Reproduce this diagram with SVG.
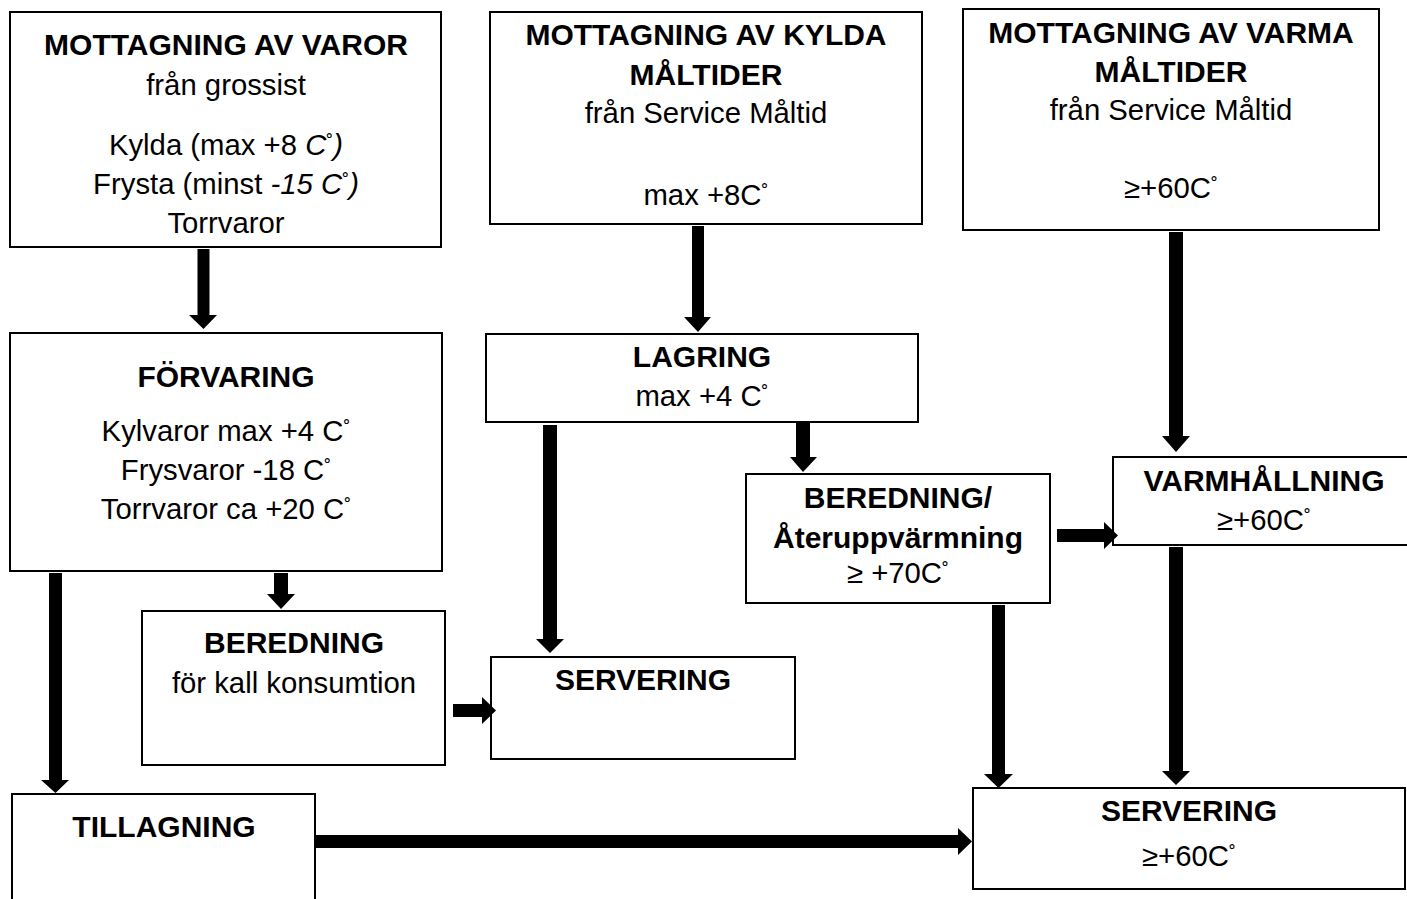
<svg xmlns="http://www.w3.org/2000/svg" width="1407" height="899" viewBox="0 0 1407 899">
<style>
.box{fill:#fff;stroke:#000;stroke-width:2}
text{font-family:"Liberation Sans",Arial,sans-serif;font-size:29.3px;fill:#000;text-anchor:middle}
.b{font-weight:bold;font-size:30px}
.i{font-style:italic}
.d{font-size:21px;baseline-shift:5px}
.arr{fill:#000;stroke:none}
</style>
<rect width="1407" height="899" fill="#fff"/>
<g id="n-mottagning-varor">
<rect class="box" x="10" y="12" width="431" height="235"/>
<text class="b" x="226" y="55">MOTTAGNING AV VAROR</text>
<text x="226" y="95">från grossist</text>
<text x="226" y="155">Kylda (max +8 <tspan class="i">C</tspan><tspan class="d">˚</tspan><tspan class="i">)</tspan></text>
<text x="226" y="194">Frysta (minst <tspan class="i">-15 C</tspan><tspan class="d">˚</tspan><tspan class="i">)</tspan></text>
<text x="226" y="233">Torrvaror</text>
</g>
<g id="n-mottagning-kylda">
<rect class="box" x="490" y="12" width="432" height="212"/>
<text class="b" x="706" y="45">MOTTAGNING AV KYLDA</text>
<text class="b" x="706" y="85">MÅLTIDER</text>
<text x="706" y="123">från Service Måltid</text>
<text x="706" y="205">max +8C<tspan class="d">˚</tspan></text>
</g>
<g id="n-mottagning-varma">
<rect class="box" x="963" y="9" width="416" height="221"/>
<text class="b" x="1171" y="43">MOTTAGNING AV VARMA</text>
<text class="b" x="1171" y="82">MÅLTIDER</text>
<text x="1171" y="120">från Service Måltid</text>
<text x="1171" y="198">≥+60C<tspan class="d">˚</tspan></text>
</g>
<g id="n-forvaring">
<rect class="box" x="10" y="333" width="432" height="238"/>
<text class="b" x="226" y="387">FÖRVARING</text>
<text x="226" y="441">Kylvaror max +4 C<tspan class="d">˚</tspan></text>
<text x="226" y="480">Frysvaror -18 C<tspan class="d">˚</tspan></text>
<text x="226" y="519">Torrvaror ca +20 C<tspan class="d">˚</tspan></text>
</g>
<g id="n-lagring">
<rect class="box" x="486" y="334" width="432" height="88"/>
<text class="b" x="702" y="367">LAGRING</text>
<text x="702" y="406">max +4 C<tspan class="d">˚</tspan></text>
</g>
<g id="n-beredning-ater">
<rect class="box" x="746" y="474" width="304" height="129"/>
<text class="b" x="898" y="508">BEREDNING/</text>
<text class="b" x="898" y="548">Återuppvärmning</text>
<text x="898" y="583">≥ +70C<tspan class="d">˚</tspan></text>
</g>
<g id="n-varmhallning">
<rect class="box" x="1113" y="457" width="303" height="88"/>
<text class="b" x="1264" y="491">VARMHÅLLNING</text>
<text x="1264" y="530">≥+60C<tspan class="d">˚</tspan></text>
</g>
<g id="n-beredning-kall">
<rect class="box" x="142" y="611" width="303" height="154"/>
<text class="b" x="294" y="653">BEREDNING</text>
<text x="294" y="693">för kall konsumtion</text>
</g>
<g id="n-servering-mid">
<rect class="box" x="491" y="657" width="304" height="102"/>
<text class="b" x="643" y="690">SERVERING</text>
</g>
<g id="n-tillagning">
<rect class="box" x="12" y="794" width="303" height="120"/>
<text class="b" x="164" y="837">TILLAGNING</text>
</g>
<g id="n-servering-right">
<rect class="box" x="973" y="788" width="432" height="101"/>
<text class="b" x="1189" y="821">SERVERING</text>
<text x="1189" y="866">≥+60C<tspan class="d">˚</tspan></text>
</g>
<g id="connectors">
<path class="arr" d="M197.5,249 H209.5 V315 H217 L203.5,329 L189,315 H197.5 Z"/>
<path class="arr" d="M692,226 H704 V317 H711 L698,332 L684,317 H692 Z"/>
<path class="arr" d="M1169,232 H1183 V436 H1190 L1176,452 L1162,436 H1169 Z"/>
<path class="arr" d="M49,573 H62 V780 H69 L55.5,793 L41,780 H49 Z"/>
<path class="arr" d="M274,573 H288 V594 H295 L281,609 L267,594 H274 Z"/>
<path class="arr" d="M543,425 H557 V639 H564 L550,653 L536,639 H543 Z"/>
<path class="arr" d="M796,423 H810 V457 H817 L803,472 L790,457 H796 Z"/>
<path class="arr" d="M453,704 V717 H482 V724 L496,710.5 L482,697 V704 Z"/>
<path class="arr" d="M1057,529 V542 H1104 V549 L1118,535.5 L1104,522 V529 Z"/>
<path class="arr" d="M315,835 V848 H958 V855 L972,841.5 L958,828 V835 Z"/>
<path class="arr" d="M992,605 H1005 V774 H1013 L998.5,788 L984,774 H992 Z"/>
<path class="arr" d="M1169,547 H1183 V771 H1190 L1176,785 L1162,771 H1169 Z"/>
</g>
</svg>
